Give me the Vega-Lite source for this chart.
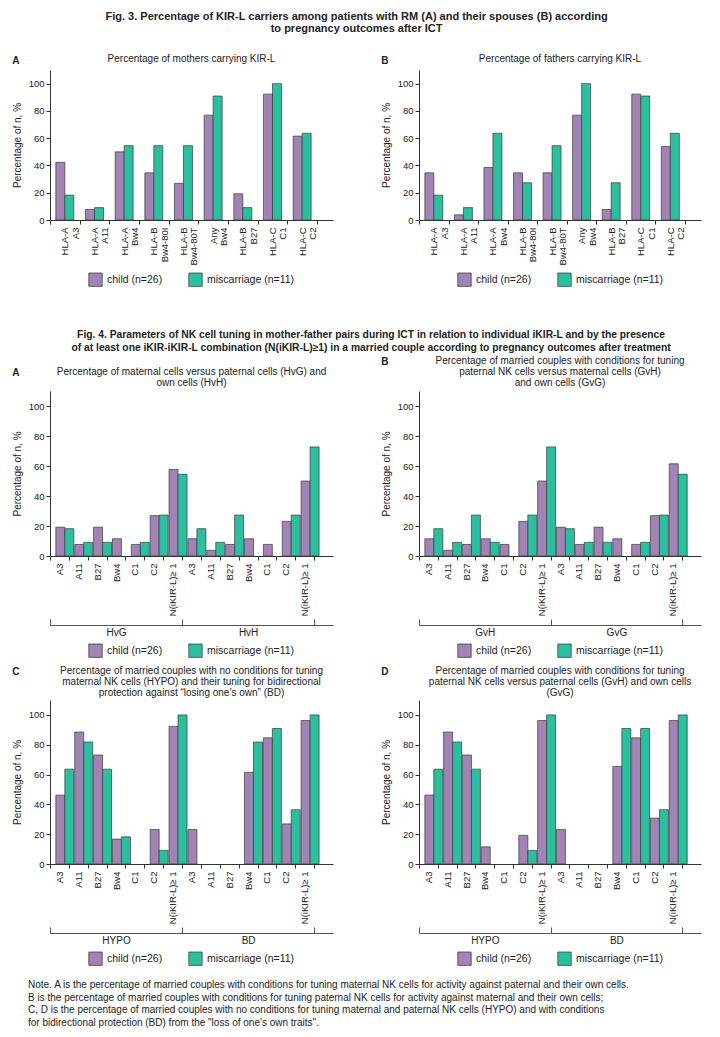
{
  "$schema": "https://vega.github.io/schema/vega-lite/v6.json",
  "background": "white",
  "padding": {"left": 12, "top": 10, "right": 4, "bottom": 2},
  "config": {
    "font": "Liberation Sans",
    "view": {"stroke": null},
    "axis": {"domainColor": "#333", "tickColor": "#333", "labelColor": "#222", "titleColor": "#222", "labelFontSize": 9.5, "titleFontSize": 10, "titleFontWeight": "normal", "grid": false, "tickSize": 4},
    "axisY": {"titlePadding": 6},
    "legend": {"orient": "bottom", "direction": "horizontal", "title": null, "symbolType": "square", "symbolSize": 180, "symbolStrokeColor": "#333", "symbolStrokeWidth": 0.8, "labelFontSize": 10.5, "columnPadding": 24, "offset": 6, "labelColor": "#222", "layout": {"bottom": {"anchor": "middle"}}},
    "bar": {"stroke": "#3a3a3a", "strokeWidth": 0.7},
    "title": {"fontWeight": "normal", "fontSize": 10, "color": "#222", "lineHeight": 11},
    "concat": {"spacing": 40}
  },
  "datasets": {
    "fig3": [
      {"p": "A", "k": "HLA-A|A3", "o": "child", "v": 42.3}, {"p": "A", "k": "HLA-A|A3", "o": "miscarriage", "v": 18.2},
      {"p": "A", "k": "HLA-A|A11", "o": "child", "v": 7.7}, {"p": "A", "k": "HLA-A|A11", "o": "miscarriage", "v": 9.1},
      {"p": "A", "k": "HLA-A|Bw4", "o": "child", "v": 50}, {"p": "A", "k": "HLA-A|Bw4", "o": "miscarriage", "v": 54.5},
      {"p": "A", "k": "HLA-B|Bw4-80I", "o": "child", "v": 34.6}, {"p": "A", "k": "HLA-B|Bw4-80I", "o": "miscarriage", "v": 54.5},
      {"p": "A", "k": "HLA-B|Bw4-80T", "o": "child", "v": 26.9}, {"p": "A", "k": "HLA-B|Bw4-80T", "o": "miscarriage", "v": 54.5},
      {"p": "A", "k": "Any|Bw4", "o": "child", "v": 76.9}, {"p": "A", "k": "Any|Bw4", "o": "miscarriage", "v": 90.9},
      {"p": "A", "k": "HLA-B|B27", "o": "child", "v": 19.2}, {"p": "A", "k": "HLA-B|B27", "o": "miscarriage", "v": 9.1},
      {"p": "A", "k": "HLA-C|C1", "o": "child", "v": 92.3}, {"p": "A", "k": "HLA-C|C1", "o": "miscarriage", "v": 100},
      {"p": "A", "k": "HLA-C|C2", "o": "child", "v": 61.5}, {"p": "A", "k": "HLA-C|C2", "o": "miscarriage", "v": 63.6},
      {"p": "B", "k": "HLA-A|A3", "o": "child", "v": 34.6}, {"p": "B", "k": "HLA-A|A3", "o": "miscarriage", "v": 18.2},
      {"p": "B", "k": "HLA-A|A11", "o": "child", "v": 3.8}, {"p": "B", "k": "HLA-A|A11", "o": "miscarriage", "v": 9.1},
      {"p": "B", "k": "HLA-A|Bw4", "o": "child", "v": 38.5}, {"p": "B", "k": "HLA-A|Bw4", "o": "miscarriage", "v": 63.6},
      {"p": "B", "k": "HLA-B|Bw4-80I", "o": "child", "v": 34.6}, {"p": "B", "k": "HLA-B|Bw4-80I", "o": "miscarriage", "v": 27.3},
      {"p": "B", "k": "HLA-B|Bw4-80T", "o": "child", "v": 34.6}, {"p": "B", "k": "HLA-B|Bw4-80T", "o": "miscarriage", "v": 54.5},
      {"p": "B", "k": "Any|Bw4", "o": "child", "v": 76.9}, {"p": "B", "k": "Any|Bw4", "o": "miscarriage", "v": 100},
      {"p": "B", "k": "HLA-B|B27", "o": "child", "v": 7.7}, {"p": "B", "k": "HLA-B|B27", "o": "miscarriage", "v": 27.3},
      {"p": "B", "k": "HLA-C|C1", "o": "child", "v": 92.3}, {"p": "B", "k": "HLA-C|C1", "o": "miscarriage", "v": 90.9},
      {"p": "B", "k": "HLA-C|C2", "o": "child", "v": 53.8}, {"p": "B", "k": "HLA-C|C2", "o": "miscarriage", "v": 63.6}
    ],
    "fig4": [
      {"p": "A", "g": "HvG", "k": "HvG|A3", "o": "child", "v": 19.2}, {"p": "A", "g": "HvG", "k": "HvG|A3", "o": "miscarriage", "v": 18.2},
      {"p": "A", "g": "HvG", "k": "HvG|A11", "o": "child", "v": 7.7}, {"p": "A", "g": "HvG", "k": "HvG|A11", "o": "miscarriage", "v": 9.1},
      {"p": "A", "g": "HvG", "k": "HvG|B27", "o": "child", "v": 19.2}, {"p": "A", "g": "HvG", "k": "HvG|B27", "o": "miscarriage", "v": 9.1},
      {"p": "A", "g": "HvG", "k": "HvG|Bw4", "o": "child", "v": 11.5}, {"p": "A", "g": "HvG", "k": "HvG|Bw4", "o": "miscarriage", "v": 0},
      {"p": "A", "g": "HvG", "k": "HvG|C1", "o": "child", "v": 7.7}, {"p": "A", "g": "HvG", "k": "HvG|C1", "o": "miscarriage", "v": 9.1},
      {"p": "A", "g": "HvG", "k": "HvG|C2", "o": "child", "v": 26.9}, {"p": "A", "g": "HvG", "k": "HvG|C2", "o": "miscarriage", "v": 27.3},
      {"p": "A", "g": "HvG", "k": "HvG|N(iKIR-L)≥ 1", "o": "child", "v": 57.7}, {"p": "A", "g": "HvG", "k": "HvG|N(iKIR-L)≥ 1", "o": "miscarriage", "v": 54.5},
      {"p": "A", "g": "HvH", "k": "HvH|A3", "o": "child", "v": 11.5}, {"p": "A", "g": "HvH", "k": "HvH|A3", "o": "miscarriage", "v": 18.2},
      {"p": "A", "g": "HvH", "k": "HvH|A11", "o": "child", "v": 3.8}, {"p": "A", "g": "HvH", "k": "HvH|A11", "o": "miscarriage", "v": 9.1},
      {"p": "A", "g": "HvH", "k": "HvH|B27", "o": "child", "v": 7.7}, {"p": "A", "g": "HvH", "k": "HvH|B27", "o": "miscarriage", "v": 27.3},
      {"p": "A", "g": "HvH", "k": "HvH|Bw4", "o": "child", "v": 11.5}, {"p": "A", "g": "HvH", "k": "HvH|Bw4", "o": "miscarriage", "v": 0},
      {"p": "A", "g": "HvH", "k": "HvH|C1", "o": "child", "v": 7.7}, {"p": "A", "g": "HvH", "k": "HvH|C1", "o": "miscarriage", "v": 0},
      {"p": "A", "g": "HvH", "k": "HvH|C2", "o": "child", "v": 23.1}, {"p": "A", "g": "HvH", "k": "HvH|C2", "o": "miscarriage", "v": 27.3},
      {"p": "A", "g": "HvH", "k": "HvH|N(iKIR-L)≥ 1", "o": "child", "v": 50}, {"p": "A", "g": "HvH", "k": "HvH|N(iKIR-L)≥ 1", "o": "miscarriage", "v": 72.7},
      {"p": "B", "g": "GvH", "k": "GvH|A3", "o": "child", "v": 11.5}, {"p": "B", "g": "GvH", "k": "GvH|A3", "o": "miscarriage", "v": 18.2},
      {"p": "B", "g": "GvH", "k": "GvH|A11", "o": "child", "v": 3.8}, {"p": "B", "g": "GvH", "k": "GvH|A11", "o": "miscarriage", "v": 9.1},
      {"p": "B", "g": "GvH", "k": "GvH|B27", "o": "child", "v": 7.7}, {"p": "B", "g": "GvH", "k": "GvH|B27", "o": "miscarriage", "v": 27.3},
      {"p": "B", "g": "GvH", "k": "GvH|Bw4", "o": "child", "v": 11.5}, {"p": "B", "g": "GvH", "k": "GvH|Bw4", "o": "miscarriage", "v": 9.1},
      {"p": "B", "g": "GvH", "k": "GvH|C1", "o": "child", "v": 7.7}, {"p": "B", "g": "GvH", "k": "GvH|C1", "o": "miscarriage", "v": 0},
      {"p": "B", "g": "GvH", "k": "GvH|C2", "o": "child", "v": 23.1}, {"p": "B", "g": "GvH", "k": "GvH|C2", "o": "miscarriage", "v": 27.3},
      {"p": "B", "g": "GvH", "k": "GvH|N(iKIR-L)≥ 1", "o": "child", "v": 50}, {"p": "B", "g": "GvH", "k": "GvH|N(iKIR-L)≥ 1", "o": "miscarriage", "v": 72.7},
      {"p": "B", "g": "GvG", "k": "GvG|A3", "o": "child", "v": 19.2}, {"p": "B", "g": "GvG", "k": "GvG|A3", "o": "miscarriage", "v": 18.2},
      {"p": "B", "g": "GvG", "k": "GvG|A11", "o": "child", "v": 7.7}, {"p": "B", "g": "GvG", "k": "GvG|A11", "o": "miscarriage", "v": 9.1},
      {"p": "B", "g": "GvG", "k": "GvG|B27", "o": "child", "v": 19.2}, {"p": "B", "g": "GvG", "k": "GvG|B27", "o": "miscarriage", "v": 9.1},
      {"p": "B", "g": "GvG", "k": "GvG|Bw4", "o": "child", "v": 11.5}, {"p": "B", "g": "GvG", "k": "GvG|Bw4", "o": "miscarriage", "v": 0},
      {"p": "B", "g": "GvG", "k": "GvG|C1", "o": "child", "v": 7.7}, {"p": "B", "g": "GvG", "k": "GvG|C1", "o": "miscarriage", "v": 9.1},
      {"p": "B", "g": "GvG", "k": "GvG|C2", "o": "child", "v": 26.9}, {"p": "B", "g": "GvG", "k": "GvG|C2", "o": "miscarriage", "v": 27.3},
      {"p": "B", "g": "GvG", "k": "GvG|N(iKIR-L)≥ 1", "o": "child", "v": 61.5}, {"p": "B", "g": "GvG", "k": "GvG|N(iKIR-L)≥ 1", "o": "miscarriage", "v": 54.5},
      {"p": "C", "g": "HYPO", "k": "HYPO|A3", "o": "child", "v": 46.2}, {"p": "C", "g": "HYPO", "k": "HYPO|A3", "o": "miscarriage", "v": 63.6},
      {"p": "C", "g": "HYPO", "k": "HYPO|A11", "o": "child", "v": 88.5}, {"p": "C", "g": "HYPO", "k": "HYPO|A11", "o": "miscarriage", "v": 81.8},
      {"p": "C", "g": "HYPO", "k": "HYPO|B27", "o": "child", "v": 73.1}, {"p": "C", "g": "HYPO", "k": "HYPO|B27", "o": "miscarriage", "v": 63.6},
      {"p": "C", "g": "HYPO", "k": "HYPO|Bw4", "o": "child", "v": 16.7}, {"p": "C", "g": "HYPO", "k": "HYPO|Bw4", "o": "miscarriage", "v": 18.2},
      {"p": "C", "g": "HYPO", "k": "HYPO|C1", "o": "child", "v": 0}, {"p": "C", "g": "HYPO", "k": "HYPO|C1", "o": "miscarriage", "v": 0},
      {"p": "C", "g": "HYPO", "k": "HYPO|C2", "o": "child", "v": 23.1}, {"p": "C", "g": "HYPO", "k": "HYPO|C2", "o": "miscarriage", "v": 9.1},
      {"p": "C", "g": "HYPO", "k": "HYPO|N(iKIR-L)≥ 1", "o": "child", "v": 92.3}, {"p": "C", "g": "HYPO", "k": "HYPO|N(iKIR-L)≥ 1", "o": "miscarriage", "v": 100},
      {"p": "C", "g": "BD", "k": "BD|A3", "o": "child", "v": 23.1}, {"p": "C", "g": "BD", "k": "BD|A3", "o": "miscarriage", "v": 0},
      {"p": "C", "g": "BD", "k": "BD|A11", "o": "child", "v": 0}, {"p": "C", "g": "BD", "k": "BD|A11", "o": "miscarriage", "v": 0},
      {"p": "C", "g": "BD", "k": "BD|B27", "o": "child", "v": 0}, {"p": "C", "g": "BD", "k": "BD|B27", "o": "miscarriage", "v": 0},
      {"p": "C", "g": "BD", "k": "BD|Bw4", "o": "child", "v": 61.5}, {"p": "C", "g": "BD", "k": "BD|Bw4", "o": "miscarriage", "v": 81.8},
      {"p": "C", "g": "BD", "k": "BD|C1", "o": "child", "v": 84.6}, {"p": "C", "g": "BD", "k": "BD|C1", "o": "miscarriage", "v": 90.9},
      {"p": "C", "g": "BD", "k": "BD|C2", "o": "child", "v": 26.9}, {"p": "C", "g": "BD", "k": "BD|C2", "o": "miscarriage", "v": 36.4},
      {"p": "C", "g": "BD", "k": "BD|N(iKIR-L)≥ 1", "o": "child", "v": 96.2}, {"p": "C", "g": "BD", "k": "BD|N(iKIR-L)≥ 1", "o": "miscarriage", "v": 100},
      {"p": "D", "g": "HYPO", "k": "HYPO|A3", "o": "child", "v": 46.2}, {"p": "D", "g": "HYPO", "k": "HYPO|A3", "o": "miscarriage", "v": 63.6},
      {"p": "D", "g": "HYPO", "k": "HYPO|A11", "o": "child", "v": 88.5}, {"p": "D", "g": "HYPO", "k": "HYPO|A11", "o": "miscarriage", "v": 81.8},
      {"p": "D", "g": "HYPO", "k": "HYPO|B27", "o": "child", "v": 73.1}, {"p": "D", "g": "HYPO", "k": "HYPO|B27", "o": "miscarriage", "v": 63.6},
      {"p": "D", "g": "HYPO", "k": "HYPO|Bw4", "o": "child", "v": 11.5}, {"p": "D", "g": "HYPO", "k": "HYPO|Bw4", "o": "miscarriage", "v": 0},
      {"p": "D", "g": "HYPO", "k": "HYPO|C1", "o": "child", "v": 0}, {"p": "D", "g": "HYPO", "k": "HYPO|C1", "o": "miscarriage", "v": 0},
      {"p": "D", "g": "HYPO", "k": "HYPO|C2", "o": "child", "v": 19.2}, {"p": "D", "g": "HYPO", "k": "HYPO|C2", "o": "miscarriage", "v": 9.1},
      {"p": "D", "g": "HYPO", "k": "HYPO|N(iKIR-L)≥ 1", "o": "child", "v": 96.2}, {"p": "D", "g": "HYPO", "k": "HYPO|N(iKIR-L)≥ 1", "o": "miscarriage", "v": 100},
      {"p": "D", "g": "BD", "k": "BD|A3", "o": "child", "v": 23.1}, {"p": "D", "g": "BD", "k": "BD|A3", "o": "miscarriage", "v": 0},
      {"p": "D", "g": "BD", "k": "BD|A11", "o": "child", "v": 0}, {"p": "D", "g": "BD", "k": "BD|A11", "o": "miscarriage", "v": 0},
      {"p": "D", "g": "BD", "k": "BD|B27", "o": "child", "v": 0}, {"p": "D", "g": "BD", "k": "BD|B27", "o": "miscarriage", "v": 0},
      {"p": "D", "g": "BD", "k": "BD|Bw4", "o": "child", "v": 65.4}, {"p": "D", "g": "BD", "k": "BD|Bw4", "o": "miscarriage", "v": 90.9},
      {"p": "D", "g": "BD", "k": "BD|C1", "o": "child", "v": 84.6}, {"p": "D", "g": "BD", "k": "BD|C1", "o": "miscarriage", "v": 90.9},
      {"p": "D", "g": "BD", "k": "BD|C2", "o": "child", "v": 30.8}, {"p": "D", "g": "BD", "k": "BD|C2", "o": "miscarriage", "v": 36.4},
      {"p": "D", "g": "BD", "k": "BD|N(iKIR-L)≥ 1", "o": "child", "v": 96.2}, {"p": "D", "g": "BD", "k": "BD|N(iKIR-L)≥ 1", "o": "miscarriage", "v": 100}
    ]
  },
  "resolve": {"legend": {"color": "independent"}},
  "spacing": 42,
  "vconcat": [
    {
      "title": {"text": ["Fig. 3. Percentage of KIR-L carriers among patients with RM (A) and their spouses (B) according", "to pregnancy outcomes after ICT"], "fontWeight": "bold", "fontSize": 11, "lineHeight": 12.5, "offset": 20, "anchor": "middle"},
      "spacing": 48,
      "resolve": {"legend": {"color": "independent"}},
      "hconcat": [
        {
          "title": {"text": "A", "anchor": "start", "fontWeight": "bold", "offset": -12},
          "resolve": {"legend": {"color": "independent"}},
          "vconcat": [
            {
              "width": 283, "height": 150,
              "title": {"text": "Percentage of mothers carrying KIR-L", "offset": 6},
              "data": {"name": "fig3"},
              "transform": [{"filter": "datum.p == 'A'"}],
              "mark": "bar",
              "encoding": {
                "x": {"field": "k", "type": "nominal", "scale": {"domain": ["HLA-A|A3", "HLA-A|A11", "HLA-A|Bw4", "HLA-B|Bw4-80I", "HLA-B|Bw4-80T", "Any|Bw4", "HLA-B|B27", "HLA-C|C1", "HLA-C|C2"], "paddingInner": 0, "paddingOuter": 0.27, "align": 0}, "axis": {"title": null, "labelAngle": -90, "labelExpr": "datum.value ? split(datum.value, '|') : ''", "labelLineHeight": 10.5, "tickBand": "extent", "labelPadding": 3}},
                "xOffset": {"field": "o", "type": "nominal", "scale": {"paddingOuter": 0.65, "paddingInner": 0}},
                "y": {"field": "v", "type": "quantitative", "scale": {"domain": [0, 110], "nice": false}, "axis": {"values": [0, 20, 40, 60, 80, 100], "title": "Percentage of n, %"}},
                "color": {"field": "o", "type": "nominal", "scale": {"domain": ["child", "miscarriage"], "range": ["#A184B4", "#2CBF9F"]}, "legend": {"labelExpr": "datum.label == 'child' ? 'child (n=26)' : 'miscarriage (n=11)'"}}
              }
            }
          ]
        },
        {
          "title": {"text": "B", "anchor": "start", "fontWeight": "bold", "offset": -12},
          "resolve": {"legend": {"color": "independent"}},
          "vconcat": [
            {
              "width": 282, "height": 150,
              "title": {"text": "Percentage of fathers carrying KIR-L", "offset": 6},
              "data": {"name": "fig3"},
              "transform": [{"filter": "datum.p == 'B'"}],
              "mark": "bar",
              "encoding": {
                "x": {"field": "k", "type": "nominal", "scale": {"domain": ["HLA-A|A3", "HLA-A|A11", "HLA-A|Bw4", "HLA-B|Bw4-80I", "HLA-B|Bw4-80T", "Any|Bw4", "HLA-B|B27", "HLA-C|C1", "HLA-C|C2"], "paddingInner": 0, "paddingOuter": 0.27, "align": 0}, "axis": {"title": null, "labelAngle": -90, "labelExpr": "datum.value ? split(datum.value, '|') : ''", "labelLineHeight": 10.5, "tickBand": "extent", "labelPadding": 3}},
                "xOffset": {"field": "o", "type": "nominal", "scale": {"paddingOuter": 0.65, "paddingInner": 0}},
                "y": {"field": "v", "type": "quantitative", "scale": {"domain": [0, 110], "nice": false}, "axis": {"values": [0, 20, 40, 60, 80, 100], "title": "Percentage of n, %"}},
                "color": {"field": "o", "type": "nominal", "scale": {"domain": ["child", "miscarriage"], "range": ["#A184B4", "#2CBF9F"]}, "legend": {"labelExpr": "datum.label == 'child' ? 'child (n=26)' : 'miscarriage (n=11)'"}}
              }
            }
          ]
        }
      ]
    },
    {
      "title": {"text": ["Fig. 4. Parameters of NK cell tuning in mother-father pairs during ICT in relation to individual iKIR-L and by the presence", "of at least one iKIR-iKIR-L combination (N(iKIR-L)≥1) in a married couple according to pregnancy outcomes after treatment"], "fontWeight": "bold", "fontSize": 10.3, "lineHeight": 12.5, "offset": 3, "anchor": "middle"},
      "spacing": 12,
      "resolve": {"legend": {"color": "independent"}},
      "vconcat": [
        {
          "spacing": 7,
          "resolve": {"legend": {"color": "independent"}},
          "vconcat": [
            {
              "spacing": 48,
              "resolve": {"legend": {"color": "independent"}},
              "hconcat": [
                {
                  "title": {"text": "A", "anchor": "start", "fontWeight": "bold", "offset": -11},
                  "resolve": {"legend": {"color": "independent"}},
                  "vconcat": [
                    {
                      "width": 283, "height": 165,
                      "title": {"text": ["Percentage of maternal cells versus paternal cells (HvG) and", "own cells (HvH)"], "offset": 3},
                      "data": {"name": "fig4"},
                      "transform": [{"filter": "datum.p == 'A'"}],
                      "layer": [
                        {
                          "transform": [{"filter": "datum.v > 0"}],
                          "mark": "bar",
                          "encoding": {
                            "x": {"field": "k", "type": "nominal", "scale": {"domain": ["HvG|A3", "HvG|A11", "HvG|B27", "HvG|Bw4", "HvG|C1", "HvG|C2", "HvG|N(iKIR-L)≥ 1", "HvH|A3", "HvH|A11", "HvH|B27", "HvH|Bw4", "HvH|C1", "HvH|C2", "HvH|N(iKIR-L)≥ 1"], "paddingInner": 0, "paddingOuter": 0.5, "align": 0}, "axis": {"title": null, "labelAngle": -90, "labelExpr": "datum.value ? split(datum.value, '|')[1] : ''", "tickBand": "extent", "labelPadding": 3}},
                            "xOffset": {"field": "o", "type": "nominal", "scale": {"paddingOuter": 0.65, "paddingInner": 0}},
                            "y": {"field": "v", "type": "quantitative", "scale": {"domain": [0, 110], "nice": false}, "axis": {"values": [0, 20, 40, 60, 80, 100], "title": "Percentage of n, %"}},
                            "color": {"field": "o", "type": "nominal", "scale": {"domain": ["child", "miscarriage"], "range": ["#A184B4", "#2CBF9F"]}, "legend": {"labelExpr": "datum.label == 'child' ? 'child (n=26)' : 'miscarriage (n=11)'"}}
                          }
                        },
                        {
                          "mark": {"type": "bar", "opacity": 0},
                          "encoding": {
                            "x": {"field": "g", "type": "nominal", "scale": {"domain": ["HvG", "HvH"], "paddingInner": 0, "paddingOuter": 0.0714, "align": 0}, "axis": {"orient": "bottom", "offset": 69, "title": null, "labelAngle": 0, "domainColor": "#555", "tickColor": "#555", "tickBand": "extent", "tickSize": -6, "labelPadding": 8, "labelFontSize": 10}},
                            "y": {"datum": 0, "type": "quantitative", "axis": {"values": [0, 20, 40, 60, 80, 100], "title": "Percentage of n, %"}}
                          }
                        }
                      ],
                      "resolve": {"scale": {"x": "independent"}, "axis": {"x": "independent"}}
                    }
                  ]
                },
                {
                  "title": {"text": "B", "anchor": "start", "fontWeight": "bold", "offset": -11},
                  "resolve": {"legend": {"color": "independent"}},
                  "vconcat": [
                    {
                      "width": 282, "height": 165,
                      "title": {"text": ["Percentage of married couples with conditions for tuning", "paternal NK cells versus maternal cells (GvH)", "and own cells (GvG)"], "offset": 3},
                      "data": {"name": "fig4"},
                      "transform": [{"filter": "datum.p == 'B'"}],
                      "layer": [
                        {
                          "transform": [{"filter": "datum.v > 0"}],
                          "mark": "bar",
                          "encoding": {
                            "x": {"field": "k", "type": "nominal", "scale": {"domain": ["GvH|A3", "GvH|A11", "GvH|B27", "GvH|Bw4", "GvH|C1", "GvH|C2", "GvH|N(iKIR-L)≥ 1", "GvG|A3", "GvG|A11", "GvG|B27", "GvG|Bw4", "GvG|C1", "GvG|C2", "GvG|N(iKIR-L)≥ 1"], "paddingInner": 0, "paddingOuter": 0.5, "align": 0}, "axis": {"title": null, "labelAngle": -90, "labelExpr": "datum.value ? split(datum.value, '|')[1] : ''", "tickBand": "extent", "labelPadding": 3}},
                            "xOffset": {"field": "o", "type": "nominal", "scale": {"paddingOuter": 0.65, "paddingInner": 0}},
                            "y": {"field": "v", "type": "quantitative", "scale": {"domain": [0, 110], "nice": false}, "axis": {"values": [0, 20, 40, 60, 80, 100], "title": "Percentage of n, %"}},
                            "color": {"field": "o", "type": "nominal", "scale": {"domain": ["child", "miscarriage"], "range": ["#A184B4", "#2CBF9F"]}, "legend": {"labelExpr": "datum.label == 'child' ? 'child (n=26)' : 'miscarriage (n=11)'"}}
                          }
                        },
                        {
                          "mark": {"type": "bar", "opacity": 0},
                          "encoding": {
                            "x": {"field": "g", "type": "nominal", "scale": {"domain": ["GvH", "GvG"], "paddingInner": 0, "paddingOuter": 0.0714, "align": 0}, "axis": {"orient": "bottom", "offset": 69, "title": null, "labelAngle": 0, "domainColor": "#555", "tickColor": "#555", "tickBand": "extent", "tickSize": -6, "labelPadding": 8, "labelFontSize": 10}},
                            "y": {"datum": 0, "type": "quantitative", "axis": {"values": [0, 20, 40, 60, 80, 100], "title": "Percentage of n, %"}}
                          }
                        }
                      ],
                      "resolve": {"scale": {"x": "independent"}, "axis": {"x": "independent"}}
                    }
                  ]
                }
              ]
            },
            {
              "spacing": 48,
              "resolve": {"legend": {"color": "independent"}},
              "hconcat": [
                {
                  "title": {"text": "C", "anchor": "start", "fontWeight": "bold", "offset": -11},
                  "resolve": {"legend": {"color": "independent"}},
                  "vconcat": [
                    {
                      "width": 283, "height": 164,
                      "title": {"text": ["Percentage of married couples with no conditions for tuning", "maternal NK cells (HYPO) and their tuning for bidirectional", "protection against “losing one’s own” (BD)"], "offset": 2},
                      "data": {"name": "fig4"},
                      "transform": [{"filter": "datum.p == 'C'"}],
                      "layer": [
                        {
                          "transform": [{"filter": "datum.v > 0"}],
                          "mark": "bar",
                          "encoding": {
                            "x": {"field": "k", "type": "nominal", "scale": {"domain": ["HYPO|A3", "HYPO|A11", "HYPO|B27", "HYPO|Bw4", "HYPO|C1", "HYPO|C2", "HYPO|N(iKIR-L)≥ 1", "BD|A3", "BD|A11", "BD|B27", "BD|Bw4", "BD|C1", "BD|C2", "BD|N(iKIR-L)≥ 1"], "paddingInner": 0, "paddingOuter": 0.5, "align": 0}, "axis": {"title": null, "labelAngle": -90, "labelExpr": "datum.value ? split(datum.value, '|')[1] : ''", "tickBand": "extent", "labelPadding": 3}},
                            "xOffset": {"field": "o", "type": "nominal", "scale": {"paddingOuter": 0.65, "paddingInner": 0}},
                            "y": {"field": "v", "type": "quantitative", "scale": {"domain": [0, 110], "nice": false}, "axis": {"values": [0, 20, 40, 60, 80, 100], "title": "Percentage of n, %"}},
                            "color": {"field": "o", "type": "nominal", "scale": {"domain": ["child", "miscarriage"], "range": ["#A184B4", "#2CBF9F"]}, "legend": {"labelExpr": "datum.label == 'child' ? 'child (n=26)' : 'miscarriage (n=11)'"}}
                          }
                        },
                        {
                          "mark": {"type": "bar", "opacity": 0},
                          "encoding": {
                            "x": {"field": "g", "type": "nominal", "scale": {"domain": ["HYPO", "BD"], "paddingInner": 0, "paddingOuter": 0.0714, "align": 0}, "axis": {"orient": "bottom", "offset": 69, "title": null, "labelAngle": 0, "domainColor": "#555", "tickColor": "#555", "tickBand": "extent", "tickSize": -6, "labelPadding": 8, "labelFontSize": 10}},
                            "y": {"datum": 0, "type": "quantitative", "axis": {"values": [0, 20, 40, 60, 80, 100], "title": "Percentage of n, %"}}
                          }
                        }
                      ],
                      "resolve": {"scale": {"x": "independent"}, "axis": {"x": "independent"}}
                    }
                  ]
                },
                {
                  "title": {"text": "D", "anchor": "start", "fontWeight": "bold", "offset": -11},
                  "resolve": {"legend": {"color": "independent"}},
                  "vconcat": [
                    {
                      "width": 282, "height": 164,
                      "title": {"text": ["Percentage of married couples with conditions for tuning", "paternal NK cells versus paternal cells (GvH) and own cells", "(GvG)"], "offset": 2},
                      "data": {"name": "fig4"},
                      "transform": [{"filter": "datum.p == 'D'"}],
                      "layer": [
                        {
                          "transform": [{"filter": "datum.v > 0"}],
                          "mark": "bar",
                          "encoding": {
                            "x": {"field": "k", "type": "nominal", "scale": {"domain": ["HYPO|A3", "HYPO|A11", "HYPO|B27", "HYPO|Bw4", "HYPO|C1", "HYPO|C2", "HYPO|N(iKIR-L)≥ 1", "BD|A3", "BD|A11", "BD|B27", "BD|Bw4", "BD|C1", "BD|C2", "BD|N(iKIR-L)≥ 1"], "paddingInner": 0, "paddingOuter": 0.5, "align": 0}, "axis": {"title": null, "labelAngle": -90, "labelExpr": "datum.value ? split(datum.value, '|')[1] : ''", "tickBand": "extent", "labelPadding": 3}},
                            "xOffset": {"field": "o", "type": "nominal", "scale": {"paddingOuter": 0.65, "paddingInner": 0}},
                            "y": {"field": "v", "type": "quantitative", "scale": {"domain": [0, 110], "nice": false}, "axis": {"values": [0, 20, 40, 60, 80, 100], "title": "Percentage of n, %"}},
                            "color": {"field": "o", "type": "nominal", "scale": {"domain": ["child", "miscarriage"], "range": ["#A184B4", "#2CBF9F"]}, "legend": {"labelExpr": "datum.label == 'child' ? 'child (n=26)' : 'miscarriage (n=11)'"}}
                          }
                        },
                        {
                          "mark": {"type": "bar", "opacity": 0},
                          "encoding": {
                            "x": {"field": "g", "type": "nominal", "scale": {"domain": ["HYPO", "BD"], "paddingInner": 0, "paddingOuter": 0.0714, "align": 0}, "axis": {"orient": "bottom", "offset": 69, "title": null, "labelAngle": 0, "domainColor": "#555", "tickColor": "#555", "tickBand": "extent", "tickSize": -6, "labelPadding": 8, "labelFontSize": 10}},
                            "y": {"datum": 0, "type": "quantitative", "axis": {"values": [0, 20, 40, 60, 80, 100], "title": "Percentage of n, %"}}
                          }
                        }
                      ],
                      "resolve": {"scale": {"x": "independent"}, "axis": {"x": "independent"}}
                    }
                  ]
                }
              ]
            }
          ]
        },
        {
          "width": 680, "height": 50,
          "data": {"values": [
            {"i": 1, "t": "Note. A is the percentage of married couples with conditions for tuning maternal NK cells for activity against paternal and their own cells."},
            {"i": 2, "t": "B is the percentage of married couples with conditions for tuning paternal NK cells for activity against maternal and their own cells;"},
            {"i": 3, "t": "C, D is the percentage of married couples with no conditions for tuning maternal and paternal NK cells (HYPO) and with conditions"},
            {"i": 4, "t": "for bidirectional protection (BD) from the \"loss of one's own traits\"."}
          ]},
          "mark": {"type": "text", "align": "left", "baseline": "middle", "fontSize": 10, "color": "#222", "dx": -22},
          "encoding": {
            "y": {"field": "i", "type": "ordinal", "axis": null, "scale": {"paddingOuter": 0}},
            "x": {"datum": 0, "type": "quantitative", "scale": {"domain": [0, 1]}, "axis": null},
            "text": {"field": "t", "type": "nominal"}
          }
        }
      ]
    }
  ]
}
